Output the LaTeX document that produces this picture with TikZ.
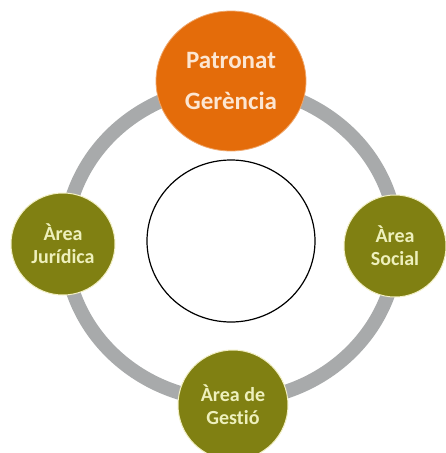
\documentclass[tikz,border=0pt]{standalone}
\usepackage{fontspec}
\setmainfont{Carlito}[Ligatures=NoCommon]
\usetikzlibrary{shapes.geometric}
\definecolor{orangeC}{HTML}{E46C0A}
\definecolor{oliveC}{HTML}{808012}
\definecolor{ringC}{HTML}{A8AAAB}
\definecolor{orangeT}{HTML}{FCE6D2}
\definecolor{oliveT}{HTML}{EEF0BC}
\definecolor{oliveE}{HTML}{F2EFC4}
\begin{document}
\begin{tikzpicture}[x=1pt,y=-1pt,
  bubble/.style={ellipse, inner sep=0pt, align=center, font=\bfseries},
  topbubble/.style={bubble, fill=orangeC, draw=orangeC!60!white, line width=0.8pt,
    text=orangeT, minimum width=150pt, minimum height=140pt, font=\bfseries\fontsize{25}{41}\selectfont},
  areabubble/.style={bubble, fill=oliveC, draw=oliveE, line width=1pt,
    text=oliveT, font=\bfseries\fontsize{20}{23}\selectfont},
  ring/.style={draw=ringC, line width=14pt}]
\useasboundingbox (0,0) rectangle (446,453);
\clip (0,0) rectangle (446,453);
\fill[white] (0,0) rectangle (446,453);
\coordinate (c) at (231,243.5);
\draw[ring] (c) ellipse [x radius=166, y radius=157];
\node[topbubble] (pat) at (231,81) {Patronat\\Gerència};
\node[areabubble, minimum width=104pt, minimum height=102pt] (jur) at (63,244) {Àrea\\Jurídica};
\node[areabubble, minimum width=102pt, minimum height=102pt] (soc) at (395,246) {Àrea\\Social};
\node[areabubble, minimum width=110pt, minimum height=110pt] (ges) at (233,405) {Àrea de\\Gestió};
\node[ellipse, draw=black, line width=1.2pt, fill=white, minimum width=168pt, minimum height=162pt] (mid) at (231,241) {};
\end{tikzpicture}
\end{document}
